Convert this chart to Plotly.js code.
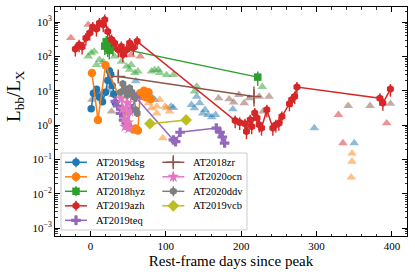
<!DOCTYPE html>
<html><head><meta charset="utf-8">
<script src="https://cdn.plot.ly/plotly-3.0.1.min.js"></script>
<style>html,body{margin:0;padding:0;background:#fff}#chart{width:415px;height:278px}</style>
</head><body><div id="chart"></div>
<script>
// ---------- detections (lines + markers) ----------
const dsgDays = [1, 4, 8, 12, 16, 20, 23, 25, 27, 29, 31, 33];
const dsgVals = [3.0, 8.5, 11, 6.5, 4.8, 9, 20, 38, 30, 14, 8, 4.5];

const ehzDays = [2, 10, 20, 57, 60, 63, 66, 69, 71, 74, 77, 80];
const ehzVals = [33, 1.4, 55, 0.75, 0.8, 0.7, 8.5, 7, 10, 6.5, 9, 5.8];

const hyzDays = [19, 21, 23, 25, 28, 30, 222];
const hyzVals = [200, 270, 175, 150, 245, 190, 25];

const azhDays = [-20, -15, -11, -6, -1, 3, 8, 12, 17, 19, 23, 28, 32, 37, 41, 43, 48, 52, 57, 62,
                 192, 198, 205, 207, 212, 214, 218, 221, 224, 227, 234, 242, 246, 250, 254, 264, 267, 271, 274,
                 384, 388, 398];
const azhVals = [165, 220, 190, 345, 480, 720, 630, 940, 840, 1180, 535, 310, 245, 157, 195, 112, 157, 245, 178, 275,
                 1.36, 1.2, 1.1, 0.65, 1.43, 0.91, 2.24, 1.6, 1.02, 0.82, 2.8, 0.82, 1.02, 1.14, 1.78, 4.2, 5.5, 6.8, 12.8,
                 6.1, 4.4, 11.2];

const teqDays = [33, 36, 40, 44, 48, 55, 60, 110, 113, 119, 167, 172, 175, 178];
const teqVals = [4.9, 3.6, 2.2, 1.4, 1.0, 3.0, 6.5, 0.37, 0.33, 0.62, 0.82, 0.62, 0.45, 0.30];

const zrDays = [37, 217];
const zrVals = [26, 6.8];
const zrErrUp = [10, 6.6];
const zrErrDown = [7, 3.3];

const ocnDays = [41, 43, 45, 46, 48, 49, 50, 51, 52, 54];
const ocnVals = [6, 3, 1.5, 0.9, 9, 4.4, 1.2, 0.8, 2.5, 8];

const ddvDays = [40, 43, 46, 49, 52, 55, 58, 60, 62];
const ddvVals = [9, 16, 11, 7.5, 12, 9, 6.5, 2.8, 2.2];

const vcbDays = [79, 127];
const vcbVals = [1.1, 1.42];

// ---------- limits (triangles) ----------
const dsgLimDays = [60, 81, 85, 107, 110, 134, 138, 141, 145, 149, 152, 156, 161, 166, 189, 297, 350];
const dsgLimVals = [19, 6.8, 5.5, 3.5, 3.2, 3.9, 3.1, 6.8, 4.4, 2.2, 2.8, 2.0, 1.7, 2.0, 2.9, 0.82, 0.30];

const ehzLimDays = [77, 81, 88, 88, 92, 96, 99, 101, 105, 347, 347, 346];
const ehzLimVals = [4.4, 3.1, 2.2, 3.5, 5.5, 0.42, 3.5, 3.1, 2.5, 0.15, 0.087, 0.030];

const hyzLimDays = [-3, 1, 5, 8, 12, 17, 32, 41, 48, 52, 54, 59, 63, 81, 85, 90, 92, 101, 110, 138, 141, 228];
const hyzLimVals = [100, 125, 140, 57, 80, 70, 100, 71, 51, 41, 57, 33, 37, 37, 40, 41, 33, 29, 29, 9.6, 13.4, 13];

const azhLimDays = [-26, -3, 54, 66, 329, 335, 393];
const azhLimVals = [345, 840, 110, 100, 2.0, 0.30, 1.14];

const zrLimDays = [2, 12, 16, 23, 28, 30, 170, 184, 190, 197, 204, 211, 224, 229, 237, 342, 371, 398];
const zrLimVals = [5.5, 7.6, 9, 10.7, 2.5, 7.6, 6.1, 5.7, 4.6, 7.6, 4.4, 6.1, 6.8, 2.5, 6.8, 3.65, 3.65, 4.2];

const seriesNames = ['AT2019dsg', 'AT2019ehz', 'AT2018hyz', 'AT2019azh', 'AT2019teq',
                     'AT2018zr', 'AT2020ocn', 'AT2020ddv', 'AT2019vcb'];

const yTickVals = [0.001, 0.01, 0.1, 1, 10, 100, 1000];
const yTickText = ['10<sup>\u22123</sup>', '10<sup>\u22122</sup>', '10<sup>\u22121</sup>', '10<sup>0</sup>',
                   '10<sup>1</sup>', '10<sup>2</sup>', '10<sup>3</sup>'];

// ---------- styles ----------
const C = {dsg:'#1f77b4', ehz:'#ff7f0e', hyz:'#2ca02c', azh:'#d62728', teq:'#9467bd',
           zr:'#8c564b', ocn:'#e377c2', ddv:'#7f7f7f', vcb:'#bcbd22'};
const FONT = 'Liberation Serif, Times New Roman, serif';

function lim(x, y, col) {
  return {x:x, y:y, type:'scatter', mode:'markers', showlegend:false, hoverinfo:'skip',
    marker:{symbol:'triangle-up', size:8.5, color:col, opacity:0.5, line:{width:0}}};
}
function det(x, y, col, sym, size, errPct) {
  return {x:x, y:y, type:'scatter', mode:'lines+markers', showlegend:false,
    line:{color:col, width:1.5}, marker:{symbol:sym, size:size, color:col, line:{width:0}},
    error_y:{type:'percent', value:errPct, color:col, thickness:1.4, width:0}};
}

const traces = [
  lim(dsgLimDays, dsgLimVals, C.dsg),
  lim(ehzLimDays, ehzLimVals, C.ehz),
  lim(hyzLimDays, hyzLimVals, C.hyz),
  lim(azhLimDays, azhLimVals, C.azh),
  lim(zrLimDays, zrLimVals, C.zr),
  det(dsgDays, dsgVals, C.dsg, 'circle', 7.5, 20),
  det(ehzDays, ehzVals, C.ehz, 'circle', 8.5, 20),
  det(hyzDays, hyzVals, C.hyz, 'square', 7.5, 45),
  det(azhDays, azhVals, C.azh, 'hexagon', 8, 40),
  det(teqDays, teqVals, C.teq, 'cross', 8, 15),
  {x:zrDays, y:zrVals, type:'scatter', mode:'lines+markers', showlegend:false,
    line:{color:C.zr, width:1.5}, marker:{symbol:'cross-thin-open', size:10, color:C.zr, line:{width:1.5, color:C.zr}},
    error_y:{type:'data', array:zrErrUp, arrayminus:zrErrDown, color:C.zr, thickness:1.4, width:0}},
  det(ocnDays, ocnVals, C.ocn, 'star', 9, 20),
  det(ddvDays, ddvVals, C.ddv, 'hexagon', 8, 20),
  det(vcbDays, vcbVals, C.vcb, 'diamond', 9, 10)
];

// ---------- hand-made legend on a pixel-space overlay axis ----------
const legSyms = [['circle',7.5],['circle',8.5],['square',7.5],['hexagon',8],['cross',8],
                 ['cross-thin-open',10],['star',9],['hexagon',8],['diamond',9]];
const legCols = [C.dsg, C.ehz, C.hyz, C.azh, C.teq, C.zr, C.ocn, C.ddv, C.vcb];
const box = {x0:61, x1:247, y0:153, y1:230};
traces.push({x:[box.x0, box.x1, box.x1, box.x0, box.x0], y:[box.y0, box.y0, box.y1, box.y1, box.y0],
  xaxis:'x2', yaxis:'y2', type:'scatter', mode:'lines', fill:'toself', fillcolor:'rgba(255,255,255,0.8)',
  line:{color:'#cccccc', width:1}, showlegend:false, hoverinfo:'skip'});
const annotations = [];
seriesNames.forEach((nm, i) => {
  const col = i < 5 ? 0 : 1;
  const row = i < 5 ? i : i - 5;
  const cx = col === 0 ? 76 : 173.3;
  const cy = 162.3 + 14.5 * row;
  traces.push({x:[cx - 11, cx + 11], y:[cy, cy], xaxis:'x2', yaxis:'y2', type:'scatter', mode:'lines',
    line:{color:legCols[i], width:1.5}, showlegend:false, hoverinfo:'skip'});
  const open = legSyms[i][0].indexOf('open') >= 0;
  traces.push({x:[cx], y:[cy], xaxis:'x2', yaxis:'y2', type:'scatter', mode:'markers',
    marker:{symbol:legSyms[i][0], size:legSyms[i][1], color:legCols[i], line:{width: open ? 1.5 : 0, color:legCols[i]}},
    error_y:{type:'constant', value:5, color:legCols[i], thickness:1.4, width:0},
    showlegend:false, hoverinfo:'skip'});
  annotations.push({xref:'x2', yref:'y2', x:cx + 18, y:cy, text:nm, showarrow:false,
    xanchor:'left', yanchor:'middle', font:{family:FONT, size:10.5, color:'#000'}});
});

annotations.push({xref:'paper', yref:'paper', x:-0.114, y:0.611, text:'L<sub>bb</sub>/L<sub>X</sub>',
  textangle:-90, showarrow:false, xanchor:'center', yanchor:'middle', font:{family:FONT, size:19, color:'#000'}});

const axBase = {ticks:'inside', ticklen:5, tickwidth:1, tickcolor:'#000', mirror:'allticks', showline:true,
  linecolor:'#000', linewidth:1, showgrid:false, zeroline:false,
  tickfont:{family:FONT, size:11, color:'#000'}};

const layout = {
  width:415, height:278, margin:{l:55, r:8, t:7, b:42},
  paper_bgcolor:'#fff', plot_bgcolor:'#fff', showlegend:false,
  font:{family:FONT, color:'#000'},
  xaxis:Object.assign({}, axBase, {range:[-47, 420], dtick:100, tick0:0,
    minor:{ticks:'inside', ticklen:2.5, dtick:20, tick0:0, tickcolor:'#000', tickwidth:0.8},
    title:{text:'Rest-frame days since peak', font:{family:FONT, size:15, color:'#000'}, standoff:4}}),
  yaxis:Object.assign({}, axBase, {type:'log', range:[-3.23, 3.44], tickmode:'array',
    tickvals:yTickVals, ticktext:yTickText,
    minor:{ticks:'inside', ticklen:2.5, tickcolor:'#000', tickwidth:0.8, dtick:'D1'}}),
  xaxis2:{overlaying:'x', range:[55, 407], visible:false, fixedrange:true},
  yaxis2:{overlaying:'y', range:[236, 7], visible:false, fixedrange:true},
  shapes:[{type:'line', xref:'paper', x0:0, x1:1, yref:'y', y0:0, y1:0, layer:'below',
    line:{color:C.dsg, width:1.5, dash:'dot'}}],
  annotations:annotations
};

Plotly.newPlot('chart', traces, layout, {staticPlot:true, displayModeBar:false});
</script>
</body></html>
